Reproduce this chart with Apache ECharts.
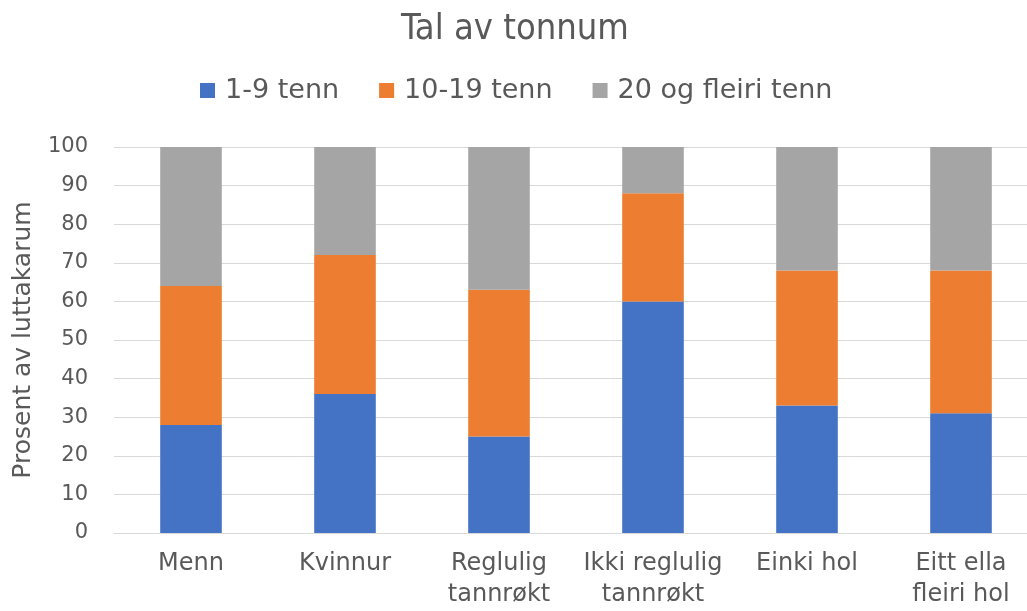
<!DOCTYPE html>
<html>
<head>
<meta charset="utf-8">
<script src="https://cdn.jsdelivr.net/npm/echarts@6/dist/echarts.min.js"></script>
<style>
  html, body { margin: 0; padding: 0; background: #fff; overflow: hidden; }
  #chart { width: 1038px; height: 611px; }
</style>
</head>
<body>
<div id="chart"></div>
<script>
// Categories of respondents
const categories = ['Menn', 'Kvinnur', 'Reglulig\ntannrøkt', 'Ikki reglulig\ntannrøkt', 'Einki hol', 'Eitt ella\nfleiri hol'];
// Share (%) with each number of teeth
const teeth1to9 = [28, 36, 25, 60, 33, 31];
const teeth10to19 = [36, 36, 38, 28, 35, 37];
const teeth20plus = [36, 28, 37, 12, 32, 32];
const seriesNames = ['1-9 tenn', '10-19 tenn', '20 og fleiri tenn'];

const font = 'DejaVu Sans Condensed';
const plainFont = 'DejaVu Sans';
const textColor = '#595959';

// The plot area runs slightly past the right edge of the visible page
const chart = echarts.init(document.getElementById('chart'), null, { renderer: 'canvas' });

const makeSeries = (name, data, color) => ({
  name, type: 'bar', stack: 'total', data,
  barWidth: '40%',
  itemStyle: { color },
  emphasis: { disabled: true }
});

chart.setOption({
  animation: false,
  title: {
    text: 'Tal av tonnum',
    left: 396, top: 7,
    textStyle: { fontFamily: font, fontSize: 36, fontWeight: 'normal', color: textColor }
  },
  legend: {
    top: 72, left: 195,
    itemWidth: 15, itemHeight: 15, itemGap: 40,
    icon: 'rect',
    textStyle: { fontFamily: plainFont, fontSize: 27, fontWeight: 'normal', color: textColor, padding: [0, 0, 0, 5] }
  },
  grid: { left: 114, right: 0, top: 147, bottom: 78, containLabel: false },
  xAxis: {
    type: 'category',
    data: categories,
    axisLine: { lineStyle: { color: '#d9d9d9', width: 1 } },
    axisTick: { show: false },
    axisLabel: { fontFamily: plainFont, fontSize: 24, color: textColor, margin: 15, lineHeight: 31, interval: 0 }
  },
  yAxis: {
    type: 'value', min: 0, max: 100, interval: 10,
    name: 'Prosent av luttakarum',
    nameLocation: 'middle', nameGap: 78,
    nameTextStyle: { fontFamily: plainFont, fontSize: 25, color: textColor },
    axisLine: { show: false },
    axisTick: { show: false },
    axisLabel: { fontFamily: plainFont, fontSize: 21, color: textColor, margin: 26 },
    splitLine: { lineStyle: { color: '#d9d9d9', width: 1 } }
  },
  series: [
    makeSeries(seriesNames[0], teeth1to9, '#4472C4'),
    makeSeries(seriesNames[1], teeth10to19, '#ED7D31'),
    makeSeries(seriesNames[2], teeth20plus, '#A5A5A5')
  ]
});
</script>
</body>
</html>
